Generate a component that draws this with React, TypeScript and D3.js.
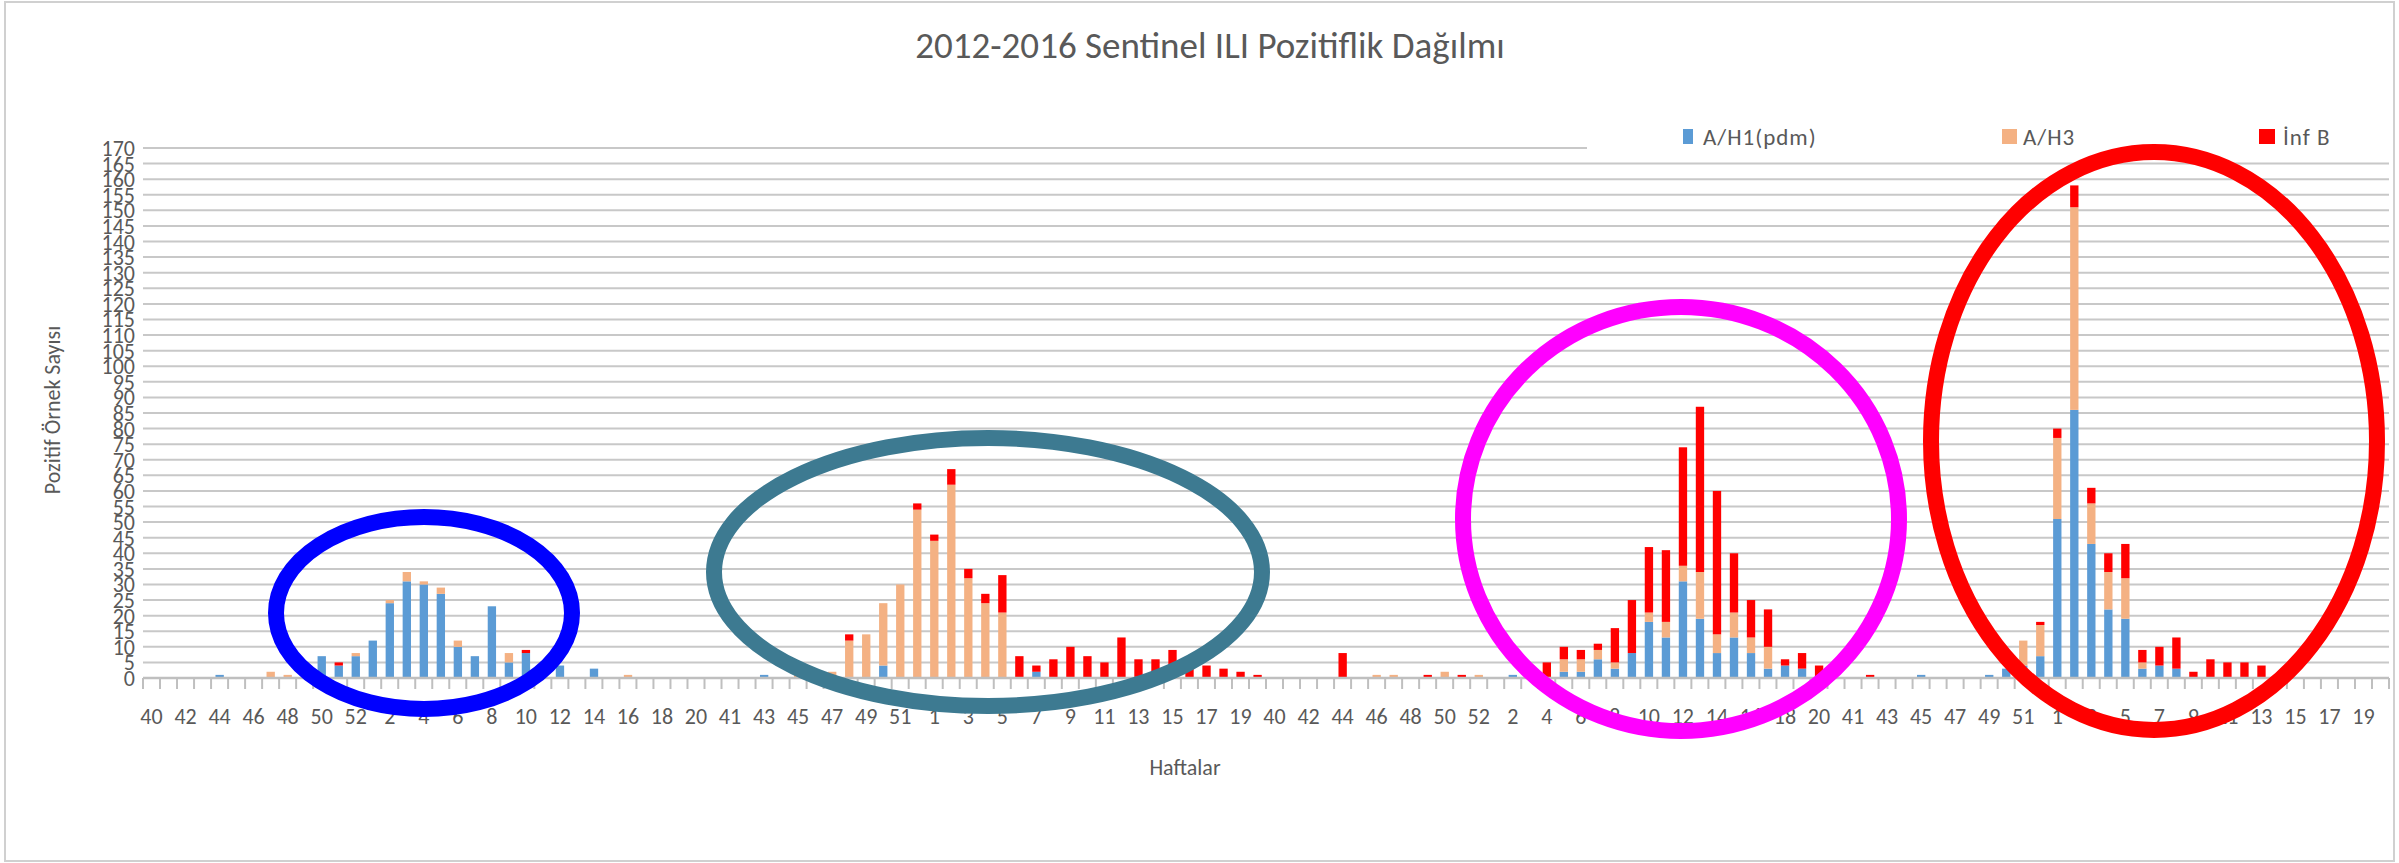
import React, { useRef, useEffect } from "react";
import * as d3 from "d3";

// Seasons run from week 40 to week 20 of the next year
const seasons = ["2012-2013", "2013-2014", "2014-2015", "2015-2016"];
const seasonWeeks = [
  40, 41, 42, 43, 44, 45, 46, 47, 48, 49, 50, 51, 52,
  1, 2, 3, 4, 5, 6, 7, 8, 9, 10, 11, 12, 13, 14, 15, 16, 17, 18, 19, 20,
];

// A/H1(pdm) positives per week, one row per season (w40..w52 | w1..w20)
const h1pdm = [
  0, 0, 0, 0, 1, 0, 0, 0, 0, 0, 7, 4, 7, 12, 24, 31, 30, 27, 10, 7, 23, 5, 8, 3, 4, 0, 3, 0, 0, 0, 0, 0, 0,
  0, 0, 0, 1, 0, 0, 0, 0, 0, 0, 4, 0, 0, 0, 0, 0, 0, 0, 0, 2, 0, 0, 0, 0, 0, 0, 0, 0, 0, 0, 0, 0, 0,
  0, 0, 0, 0, 0, 0, 0, 0, 0, 0, 0, 0, 0, 0, 1, 0, 0, 2, 2, 6, 3, 8, 18, 13, 31, 19, 8, 13, 8, 3, 4, 3, 0,
  0, 0, 0, 0, 0, 1, 0, 0, 0, 1, 3, 4, 7, 51, 86, 43, 22, 19, 3, 4, 3, 0, 0, 0, 0, 0, 0, 0, 0, 0, 0, 0, 0,
];

// A/H3 positives per week
const h3 = [
  0, 0, 0, 0, 0, 0, 0, 2, 1, 0, 0, 0, 1, 0, 1, 3, 1, 2, 2, 0, 0, 3, 0, 2, 0, 0, 0, 0, 1, 0, 0, 0, 0,
  0, 0, 0, 0, 0, 1, 0, 2, 12, 14, 20, 30, 54, 44, 62, 32, 24, 21, 0, 0, 0, 0, 0, 0, 0, 0, 0, 0, 0, 0, 0, 0, 0,
  0, 0, 0, 0, 0, 0, 1, 1, 0, 0, 2, 0, 1, 0, 0, 0, 0, 4, 4, 3, 2, 0, 3, 5, 5, 15, 6, 8, 5, 7, 0, 0, 0,
  0, 0, 0, 0, 0, 0, 0, 0, 0, 0, 0, 8, 10, 26, 65, 13, 12, 13, 2, 0, 0, 0, 0, 0, 0, 0, 0, 0, 0, 0, 0, 0, 0,
];

// Influenza B positives per week
const infB = [
  0, 0, 0, 0, 0, 0, 0, 0, 0, 0, 0, 1, 0, 0, 0, 0, 0, 0, 0, 0, 0, 0, 1, 0, 0, 0, 0, 0, 0, 0, 0, 0, 0,
  0, 0, 0, 0, 0, 0, 0, 0, 2, 0, 0, 0, 2, 2, 5, 3, 3, 12, 7, 2, 6, 10, 7, 5, 13, 6, 6, 9, 4, 4, 3, 2, 1,
  0, 0, 0, 0, 8, 0, 0, 0, 0, 1, 0, 1, 0, 0, 0, 0, 5, 4, 3, 2, 11, 17, 21, 23, 38, 53, 46, 19, 12, 12, 2, 5, 4,
  0, 0, 1, 0, 0, 0, 0, 0, 0, 0, 0, 0, 1, 3, 7, 5, 6, 11, 4, 6, 10, 2, 6, 5, 5, 4, 0, 0, 0, 0, 0, 0, 0,
];

const seriesNames = ["A/H1(pdm)", "A/H3", "İnf B"];
const seriesColors = ["#5B9BD5", "#F4B183", "#FF0000"];

// Hand-drawn season highlight ellipses (cx, cy, rx, ry in pixels)
const highlights = [
  { cx: 424, cy: 613, rx: 148, ry: 96, color: "#0000FF" },
  { cx: 988, cy: 572, rx: 274, ry: 134, color: "#3D7A91" },
  { cx: 1681, cy: 519, rx: 218, ry: 212, color: "#FF00FF" },
  { cx: 2154, cy: 441, rx: 223, ry: 289, color: "#FF0000" },
];

const FONT = "Calibri, Carlito, Lato, sans-serif";

function App() {
  const svgRef = useRef(null);

  useEffect(() => {
    const svg = d3.select(svgRef.current);
    svg.selectAll("*").remove();

    const width = 2399;
    const height = 863;
    const left = 143;
    const right = 2389;
    const top = 148;
    const bottom = 678;

    // one row per week of every season
    const rows = [];
    seasons.forEach((s, si) => {
      seasonWeeks.forEach((w, wi) => {
        const i = si * seasonWeeks.length + wi;
        rows.push({
          key: `${s}-${w}`,
          week: w,
          idx: i,
          "A/H1(pdm)": h1pdm[i],
          "A/H3": h3[i],
          "İnf B": infB[i],
        });
      });
    });

    const x = d3
      .scaleBand()
      .domain(rows.map((d) => d.key))
      .range([left, right]);
    const y = d3.scaleLinear().domain([0, 170]).range([bottom, top]);
    const bw = x.bandwidth();

    // chart border
    svg
      .append("rect")
      .attr("x", 5)
      .attr("y", 2)
      .attr("width", width - 10)
      .attr("height", height - 4)
      .attr("fill", "white")
      .attr("stroke", "#D0D0D0")
      .attr("stroke-width", 2);

    // title
    svg
      .append("text")
      .attr("x", 1210)
      .attr("y", 58)
      .attr("text-anchor", "middle")
      .attr("fill", "#595959")
      .style("font-family", FONT)
      .style("font-size", "37px")
      .text("2012-2016 Sentinel ILI Pozitiflik Dağılmı");

    // horizontal gridlines
    const yTicks = d3.range(5, 171, 5);
    svg
      .append("g")
      .selectAll("line")
      .data(yTicks)
      .enter()
      .append("line")
      .attr("x1", left)
      .attr("x2", right)
      .attr("y1", (d) => y(d))
      .attr("y2", (d) => y(d))
      .attr("stroke", "#C8C8C8")
      .attr("stroke-width", 2);

    // y tick labels
    svg
      .append("g")
      .selectAll("text")
      .data(d3.range(0, 171, 5))
      .enter()
      .append("text")
      .attr("x", 135)
      .attr("y", (d) => y(d) + 8)
      .attr("text-anchor", "end")
      .attr("fill", "#595959")
      .style("font-family", FONT)
      .style("font-size", "22px")
      .text((d) => d);

    // stacked bars
    const stack = d3.stack().keys(seriesNames);
    const layers = stack(rows);
    const g = svg.append("g");
    layers.forEach((layer, li) => {
      g.append("g")
        .attr("fill", seriesColors[li])
        .selectAll("rect")
        .data(layer.filter((d) => d[1] - d[0] > 0))
        .enter()
        .append("rect")
        .attr("x", (d) => x(d.data.key) + bw * 0.26)
        .attr("width", bw * 0.49)
        .attr("y", (d) => y(d[1]))
        .attr("height", (d) => y(d[0]) - y(d[1]));
    });

    // x axis line + ticks at category edges
    const axis = svg.append("g");
    axis
      .append("line")
      .attr("x1", left)
      .attr("x2", right)
      .attr("y1", bottom)
      .attr("y2", bottom)
      .attr("stroke", "#BFBFBF")
      .attr("stroke-width", 2.5);
    const edges = rows.map((d) => x(d.key)).concat([right]);
    axis
      .selectAll(".tick")
      .data(edges)
      .enter()
      .append("line")
      .attr("class", "tick")
      .attr("x1", (d) => d)
      .attr("x2", (d) => d)
      .attr("y1", bottom)
      .attr("y2", bottom + 11)
      .attr("stroke", "#BFBFBF")
      .attr("stroke-width", 2);

    // week labels on every second category
    axis
      .selectAll(".wl")
      .data(rows.filter((d) => d.idx % 2 === 0))
      .enter()
      .append("text")
      .attr("class", "wl")
      .attr("x", (d) => x(d.key) + bw / 2)
      .attr("y", 724)
      .attr("text-anchor", "middle")
      .attr("fill", "#595959")
      .style("font-family", FONT)
      .style("font-size", "22px")
      .text((d) => d.week);

    // axis titles
    svg
      .append("text")
      .attr("x", 1185)
      .attr("y", 775)
      .attr("text-anchor", "middle")
      .attr("fill", "#595959")
      .style("font-family", FONT)
      .style("font-size", "22px")
      .text("Haftalar");

    svg
      .append("text")
      .attr("transform", `translate(60, ${(top + bottom) / 2 - 3}) rotate(-90)`)
      .attr("text-anchor", "middle")
      .attr("fill", "#595959")
      .style("font-family", FONT)
      .style("font-size", "22px")
      .text("Pozitif Örnek Sayısı");

    // legend (white box hides the top gridline behind it)
    const legend = svg.append("g");
    legend
      .append("rect")
      .attr("x", 1587)
      .attr("y", 115)
      .attr("width", right - 1587 + 2)
      .attr("height", 37)
      .attr("fill", "white");
    const legendItems = [
      { sx: 1683, sw: 10, tx: 1703 },
      { sx: 2002, sw: 15, tx: 2023 },
      { sx: 2259, sw: 16, tx: 2283 },
    ];
    legendItems.forEach((it, i) => {
      legend
        .append("rect")
        .attr("x", it.sx)
        .attr("y", 129)
        .attr("width", it.sw)
        .attr("height", 15)
        .attr("fill", seriesColors[i]);
      legend
        .append("text")
        .attr("x", it.tx)
        .attr("y", 145)
        .attr("fill", "#595959")
        .style("font-family", FONT)
        .style("font-size", "23px")
        .style("letter-spacing", "1px")
        .text(seriesNames[i]);
    });

    // highlight ellipses drawn over everything
    svg
      .append("g")
      .selectAll("ellipse")
      .data(highlights)
      .enter()
      .append("ellipse")
      .attr("cx", (d) => d.cx)
      .attr("cy", (d) => d.cy)
      .attr("rx", (d) => d.rx)
      .attr("ry", (d) => d.ry)
      .attr("fill", "none")
      .attr("stroke", (d) => d.color)
      .attr("stroke-width", 16);
  }, []);

  return (
    <svg
      ref={svgRef}
      width={2399}
      height={863}
      style={{ position: "absolute", left: 0, top: 0, background: "white" }}
    ></svg>
  );
}

export default App;
